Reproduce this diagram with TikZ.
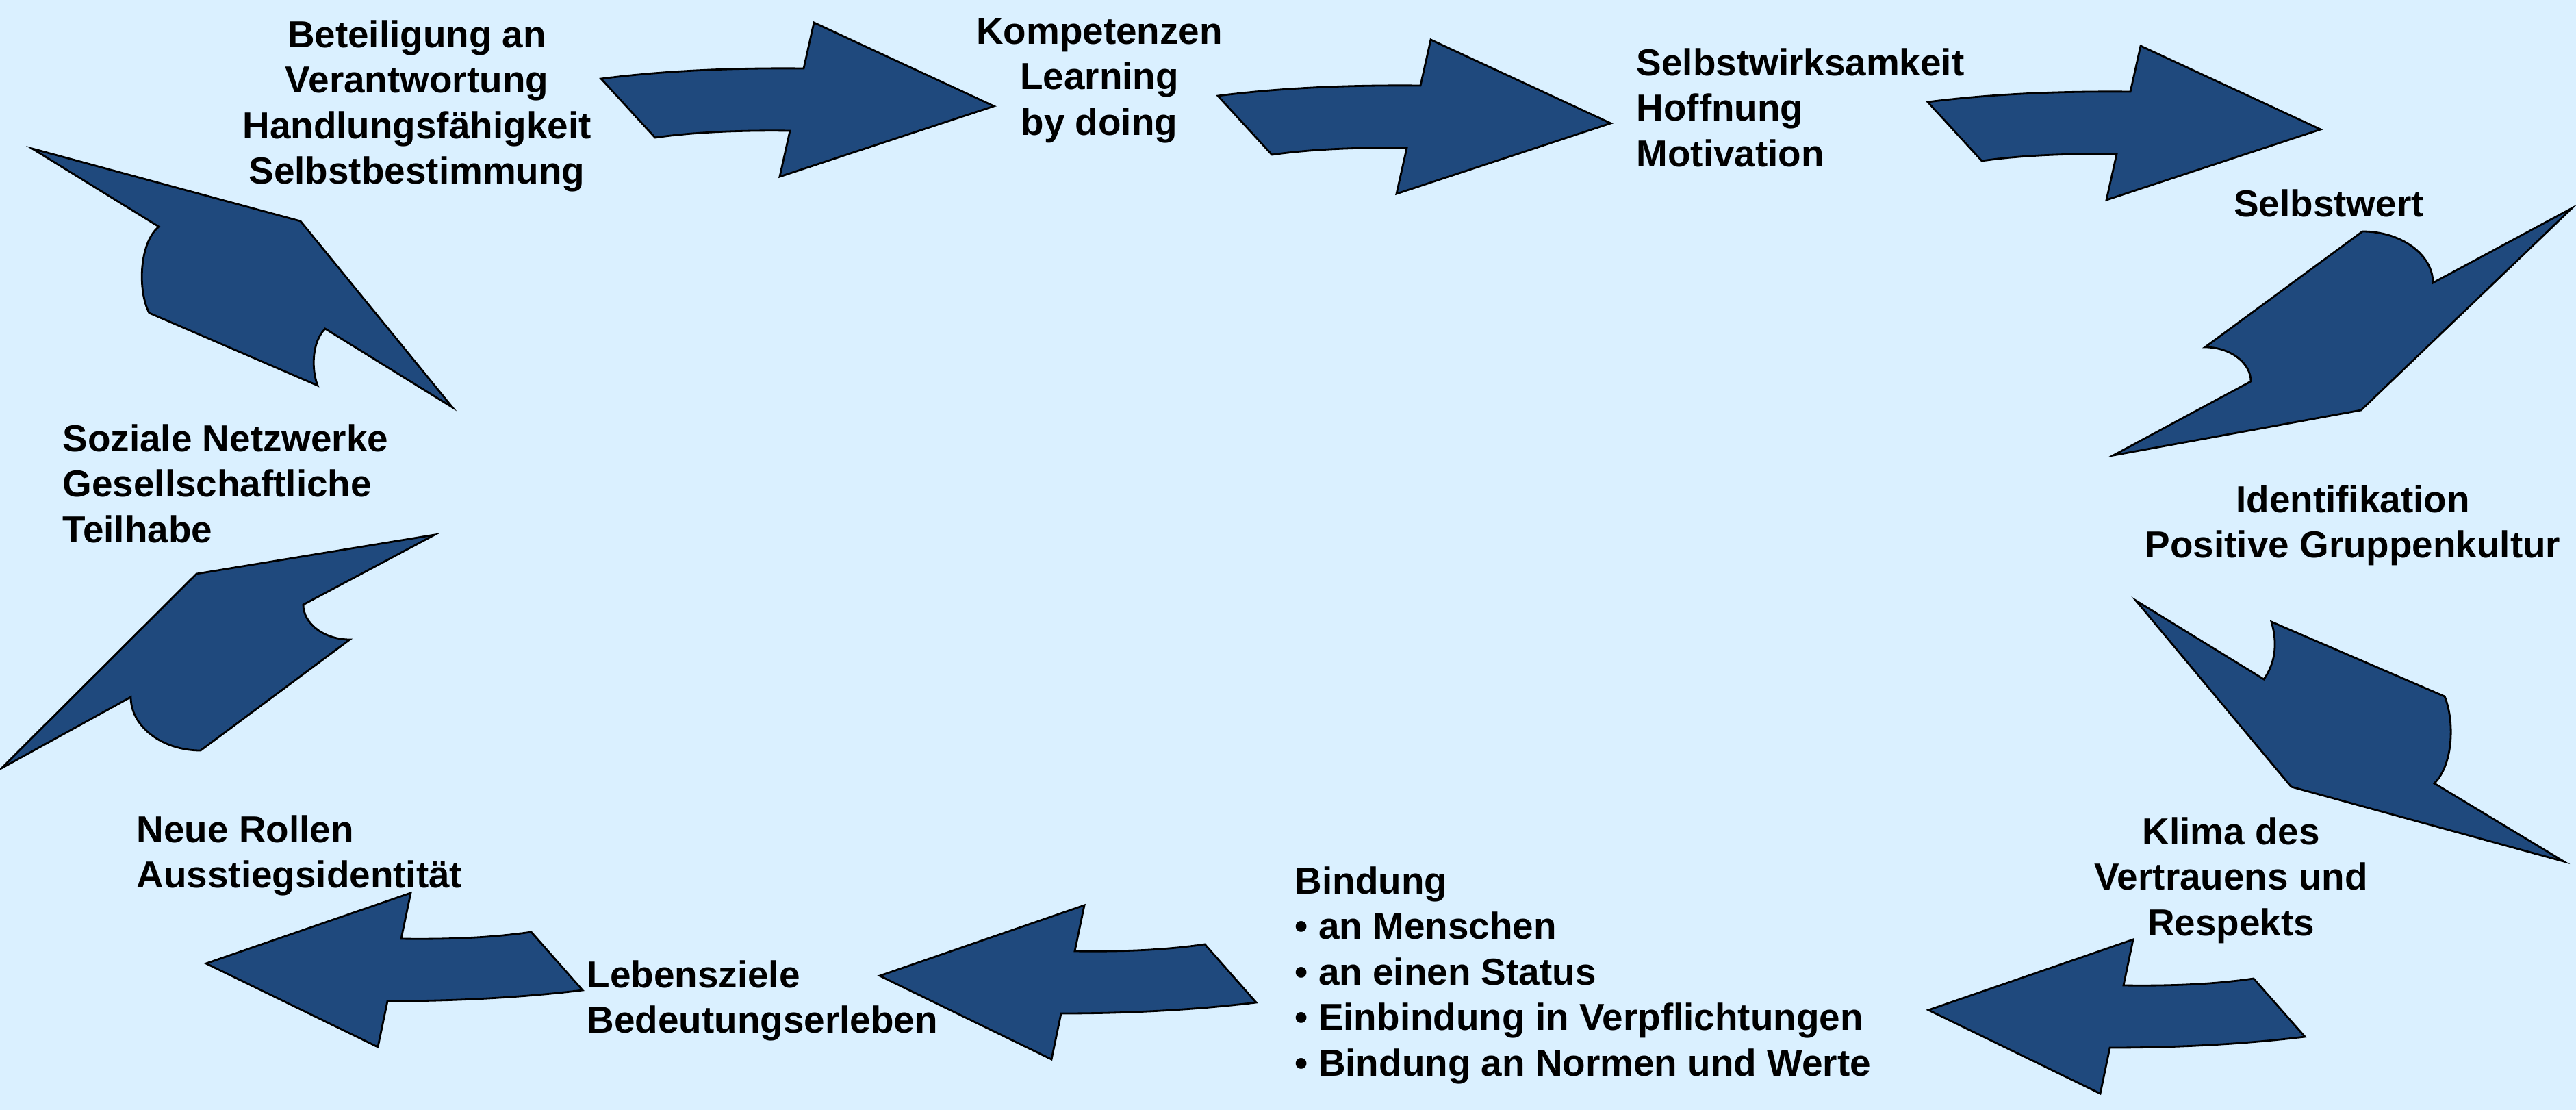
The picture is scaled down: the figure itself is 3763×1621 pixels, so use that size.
\documentclass[tikz,border=0pt]{standalone}
\usepackage{fontspec}
\setmainfont{Liberation Sans}
\usepackage{xcolor}
\usepackage{tikz}
\definecolor{bgblue}{RGB}{218,240,255}
\definecolor{arrowblue}{RGB}{31,73,125}

\tikzset{
    bigarrow/.style={fill=arrowblue, draw=black, line width=0.8pt, line join=miter},
    % straight arrow, tip at the pic origin
    rarrowshape/.pic={
        \filldraw[bigarrow] (-574,-40) .. controls (-480,-52) and (-380,-56) .. (-278,-55)
            -- (-263,-122) -- (0,0) -- (-313,103) -- (-298,36)
            .. controls (-370,35) and (-440,38) .. (-495,46) -- cycle;
    },
    larrowshape/.pic={
        \filldraw[bigarrow] (0,0) -- (299,-103) -- (285,-36)
            .. controls (360,-35) and (420,-38) .. (475,-46) -- (550,39)
            .. controls (460,50) and (360,55) .. (265,55) -- (251,122) -- cycle;
    }
}

\begin{document}
\begin{tikzpicture}[
    x=0.01cm, y=-0.01cm,
    txt/.style={font=\fontsize{15.6}{18.9}\selectfont\bfseries, inner sep=0pt},
    ctxt/.style={txt, align=center, anchor=north},
    ltxt/.style={txt, align=left, anchor=north west}
]
    \fill[bgblue] (0,0) rectangle (3763,1621);
    \useasboundingbox (0,0) rectangle (3763,1621);

    % Texts around the cycle
    \node[ctxt] (beteiligung) at (609,29) {Beteiligung an\\Verantwortung\\Handlungsfähigkeit\\Selbstbestimmung};
    \node[ctxt] (kompetenzen) at (1606,26) {Kompetenzen\\Learning\\by doing};
    \node[ltxt] (selbstwirksam) at (2390,70) {Selbstwirksamkeit\\Hoffnung\\Motivation};
    \node[ctxt] (selbstwert) at (3402,276) {Selbstwert};
    \node[ctxt] (identifikation) at (3437,708) {Identifikation\\Positive Gruppenkultur};
    \node[ctxt] (klima) at (3259,1193) {Klima des\\Vertrauens und\\Respekts};
    \node[ltxt] (bindung) at (1891,1265) {Bindung\\• an Menschen\\• an einen Status\\• Einbindung in Verpflichtungen\\• Bindung an Normen und Werte};
    \node[ltxt] (lebensziele) at (857,1402) {Lebensziele\\Bedeutungserleben};
    \node[ltxt] (rollen) at (199,1190) {Neue Rollen\\Ausstiegsidentität};
    \node[ltxt] (netzwerke) at (91,619) {Soziale Netzwerke\\Gesellschaftliche\\Teilhabe};

    % Top row
    \pic at (1452,155) {rarrowshape};
    \pic at (2353,180) {rarrowshape};
    \pic at (3390,189) {rarrowshape};

    % Right side
    \filldraw[bigarrow] (3757,304) -- (3554,413) .. controls (3554,372) and (3508,338) .. (3451,338)
        -- (3221,507) .. controls (3258,507) and (3288,530) .. (3288,557)
        -- (3087,665) -- (3449,599) -- cycle;
    \filldraw[bigarrow] (3120,877) -- (3307,992) .. controls (3326,965) and (3326,935) .. (3318,908)
        -- (3571,1017) .. controls (3585,1050) and (3585,1115) .. (3556,1144)
        -- (3745,1258) -- (3347,1149) -- cycle;

    % Bottom row
    \pic at (2817,1475) {larrowshape};
    \pic at (1285,1425) {larrowshape};
    \pic at (301,1407) {larrowshape};

    % Left side
    \filldraw[bigarrow] (635,781) -- (443,883) .. controls (443,911) and (474,934) .. (511,934)
        -- (293,1096) .. controls (237,1096) and (191,1061) .. (191,1018)
        -- (2,1122) -- (287,838) -- cycle;
    \filldraw[bigarrow] (47,217) -- (232,331) .. controls (203,355) and (201,425) .. (218,457)
        -- (464,563) .. controls (455,540) and (455,500) .. (475,480)
        -- (661,595) -- (439,323) -- cycle;
\end{tikzpicture}
\end{document}
